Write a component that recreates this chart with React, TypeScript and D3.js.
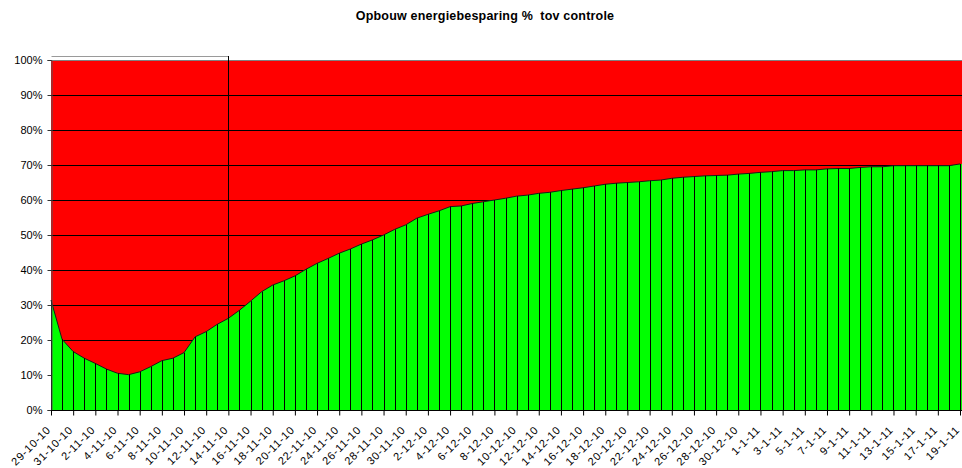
import * as d3 from "d3"
import { useEffect, useRef } from "react"

const title = "Opbouw energiebesparing %  tov controle"

const dates = [
  "29-10-10", "30-10-10", "31-10-10",
  "1-11-10", "2-11-10", "3-11-10", "4-11-10", "5-11-10", "6-11-10", "7-11-10", "8-11-10", "9-11-10", "10-11-10",
  "11-11-10", "12-11-10", "13-11-10", "14-11-10", "15-11-10", "16-11-10", "17-11-10", "18-11-10", "19-11-10", "20-11-10",
  "21-11-10", "22-11-10", "23-11-10", "24-11-10", "25-11-10", "26-11-10", "27-11-10", "28-11-10", "29-11-10", "30-11-10",
  "1-12-10", "2-12-10", "3-12-10", "4-12-10", "5-12-10", "6-12-10", "7-12-10", "8-12-10", "9-12-10", "10-12-10",
  "11-12-10", "12-12-10", "13-12-10", "14-12-10", "15-12-10", "16-12-10", "17-12-10", "18-12-10", "19-12-10", "20-12-10",
  "21-12-10", "22-12-10", "23-12-10", "24-12-10", "25-12-10", "26-12-10", "27-12-10", "28-12-10", "29-12-10", "30-12-10",
  "31-12-10", "1-1-11", "2-1-11", "3-1-11", "4-1-11", "5-1-11", "6-1-11", "7-1-11", "8-1-11", "9-1-11", "10-1-11",
  "11-1-11", "12-1-11", "13-1-11", "14-1-11", "15-1-11", "16-1-11", "17-1-11", "18-1-11", "19-1-11",
]

// besparing in % per dag
const savings = [
  31.4, 20.2, 16.7, 14.8, 13.3, 11.7, 10.5, 10.1, 10.9, 12.4,
  14.1, 14.8, 16.4, 20.9, 22.4, 24.5, 26.2, 28.5, 31.1, 33.8,
  35.7, 36.9, 38.3, 40.2, 41.9, 43.3, 44.8, 46.0, 47.4, 48.6,
  50.0, 51.6, 52.9, 54.8, 55.9, 56.9, 58.1, 58.3, 59.0, 59.5,
  60.0, 60.5, 61.1, 61.4, 61.9, 62.2, 62.7, 63.1, 63.5, 64.0,
  64.5, 64.8, 65.0, 65.2, 65.5, 65.7, 66.2, 66.5, 66.7, 66.9,
  67.0, 67.1, 67.4, 67.6, 67.9, 68.1, 68.4, 68.4, 68.6, 68.6,
  68.9, 69.0, 69.0, 69.3, 69.5, 69.5, 69.8, 69.8, 69.8, 69.8,
  69.8, 69.8, 70.3,
]

const yTicks = [0, 10, 20, 30, 40, 50, 60, 70, 80, 90, 100]
const tickDates = dates.filter((_, i) => i % 2 === 0)

// kader rond de eerste periode
const boxStart = "29-10-10"
const boxEnd = "14-11-10"

const W = 962
const H = 468

export default function App() {
  const ref = useRef<SVGSVGElement>(null)

  useEffect(() => {
    const svg = d3.select(ref.current)
    svg.selectAll("*").remove()

    const font = "'Liberation Sans', Arial, sans-serif"

    const x = d3.scalePoint<string>().domain(dates).range([51, 960])
    const y = d3.scaleLinear().domain([0, 100]).range([410, 60])

    const data = dates.map((d, i) => ({ date: d, value: savings[i] }))

    const g = svg.append("g")

    // plot area background (red = rest tot 100%)
    g.append("rect")
      .attr("x", x(dates[0])!)
      .attr("y", y(100))
      .attr("width", W - x(dates[0])!)
      .attr("height", y(0) - y(100))
      .attr("fill", "#ff0000")

    // gridlines
    g.selectAll("line.grid")
      .data(yTicks.filter((t) => t > 0))
      .enter()
      .append("line")
      .attr("x1", x(dates[0])!)
      .attr("x2", W)
      .attr("y1", (d) => Math.round(y(d)) + 0.5)
      .attr("y2", (d) => Math.round(y(d)) + 0.5)
      .attr("stroke", (d) => (d === 100 ? "#808080" : "#000"))
      .attr("stroke-width", 1)

    // green area
    const area = d3
      .area<{ date: string; value: number }>()
      .x((d) => x(d.date)!)
      .y0(y(0))
      .y1((d) => y(d.value))

    const last = data[data.length - 1]

    g.append("path")
      .datum([...data, { date: last.date, value: last.value }])
      .attr("d", area)
      .attr("fill", "#00ff00")

    // keep the green running to the picture's right edge
    g.append("rect")
      .attr("x", x(last.date)!)
      .attr("y", y(last.value))
      .attr("width", W - x(last.date)!)
      .attr("height", y(0) - y(last.value))
      .attr("fill", "#00ff00")

    const line = d3
      .line<{ date: string; value: number }>()
      .x((d) => x(d.date)!)
      .y((d) => y(d.value))

    g.append("path")
      .datum(data)
      .attr("d", line)
      .attr("fill", "none")
      .attr("stroke", "#1a1a1a")
      .attr("stroke-width", 1)

    // drop lines
    g.selectAll("line.drop")
      .data(data)
      .enter()
      .append("line")
      .attr("x1", (d) => Math.round(x(d.date)!) + 0.5)
      .attr("x2", (d) => Math.round(x(d.date)!) + 0.5)
      .attr("y1", (d) => y(d.value))
      .attr("y2", y(0))
      .attr("stroke", "#000")
      .attr("stroke-width", 1)

    // box
    const bx0 = Math.round(x(boxStart)!) + 0.5
    const bx1 = Math.round(x(boxEnd)!) + 0.5
    g.append("line")
      .attr("x1", bx0)
      .attr("x2", bx1)
      .attr("y1", 56.5)
      .attr("y2", 56.5)
      .attr("stroke", "#9a9a9a")
    g.append("line")
      .attr("x1", bx1)
      .attr("x2", bx1)
      .attr("y1", 56)
      .attr("y2", y(0))
      .attr("stroke", "#000")

    // y axis
    const yAxis = g
      .append("g")
      .attr("transform", `translate(${Math.round(x(dates[0])!) + 0.5},0)`)
      .call(
        d3
          .axisLeft(y)
          .tickValues(yTicks)
          .tickSize(4)
          .tickPadding(5)
          .tickFormat((d) => `${d}%`)
      )
    yAxis.select(".domain").attr("stroke", "#555")
    yAxis.selectAll(".tick line").attr("stroke", "#333")
    yAxis
      .selectAll("text")
      .attr("font-family", font)
      .attr("font-size", 11)
      .attr("fill", "#000")

    // x axis
    const xAxis = g
      .append("g")
      .attr("transform", `translate(0,${y(0) + 0.5})`)
      .call(d3.axisBottom(x).tickValues(tickDates).tickSize(5).tickSizeOuter(0))
    xAxis.select(".domain").attr("stroke", "#000").attr("d", `M${x(dates[0])},0H${W}`)
    xAxis.selectAll(".tick line").attr("stroke", "#000")
    xAxis
      .selectAll("text")
      .attr("font-family", font)
      .attr("font-size", 11)
      .attr("letter-spacing", 0.8)
      .attr("fill", "#000")
      .attr("text-anchor", "end")
      .attr("dy", 0)
      .attr("y", 0)
      .attr("transform", "translate(0,20) rotate(-45)")

    // title
    svg
      .append("text")
      .attr("x", 485)
      .attr("y", 20)
      .attr("text-anchor", "middle")
      .attr("font-family", font)
      .attr("font-weight", "bold")
      .attr("font-size", 12.5)
      .attr("letter-spacing", 0.2)
      .attr("fill", "#000")
      .style("white-space", "pre")
      .text(title)
  }, [])

  return (
    <div style={{ position: "fixed", left: 0, top: 0, background: "#fff" }}>
      <svg ref={ref} width={W} height={H} style={{ display: "block" }}></svg>
    </div>
  )
}
